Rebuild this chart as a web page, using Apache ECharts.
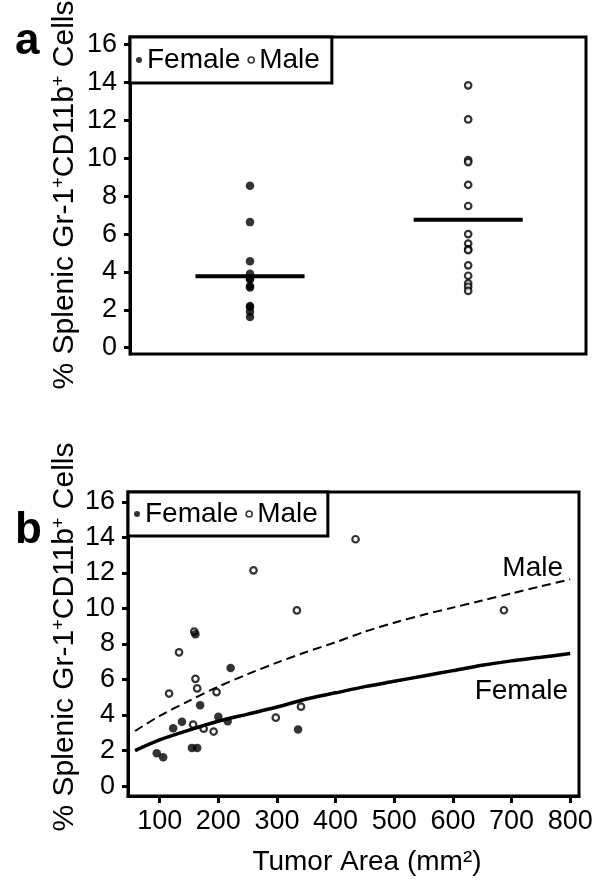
<!DOCTYPE html>
<html>
<head>
<meta charset="utf-8">
<script src="https://cdn.jsdelivr.net/npm/echarts@6/dist/echarts.min.js"></script>
<style>
html,body{margin:0;padding:0;background:#fff;}
#c{width:602px;height:884px;}
</style>
</head>
<body>
<div id="c"></div>
<script>
// ---------- data ----------
const groups = ['Female', 'Male'];
const femaleA = [8.55, 6.63, 4.57, 3.9, 3.65, 3.6, 3.25, 3.18, 2.2, 2.15, 1.9, 1.62];
const maleA = [13.85, 12.05, 9.9, 9.8, 8.6, 7.48, 6.0, 5.5, 5.2, 5.15, 4.35, 3.8, 3.4, 3.22, 3.0];
const mediansA = [3.77, 6.75];
const yTicks = [0, 2, 4, 6, 8, 10, 12, 14, 16];
const xTicksB = [100, 200, 300, 400, 500, 600, 700, 800];
const femaleB = [[95,1.85],[106,1.62],[123,3.25],[138,3.62],[155,2.15],[164,2.15],[161,8.55],[169,4.55],[200,3.9],[216,3.65],[221,6.65],[336,3.18]];
const maleB = [[116,5.21],[133,7.53],[157,3.46],[159,8.7],[161,6.04],[164,5.5],[175,3.23],[192,3.07],[197,5.29],[260,12.15],[298,3.85],[334,9.89],[341,4.47],[434,13.9],[687,9.9]];
const femaleFit = [[58,2.0],[100,2.6],[150,3.15],[200,3.65],[250,4.05],[300,4.45],[350,4.9],[400,5.25],[450,5.6],[500,5.9],[550,6.2],[600,6.5],[650,6.8],[700,7.05],[750,7.25],[800,7.47]];
const maleFit = [[58,3.1],[100,3.95],[150,4.8],[200,5.6],[250,6.3],[300,6.95],[350,7.55],[400,8.1],[450,8.7],[500,9.2],[550,9.65],[600,10.05],[650,10.45],[700,10.85],[750,11.25],[800,11.64]];

// ---------- chart ----------
const FONT = '"Liberation Sans", Arial, sans-serif';
const chart = echarts.init(document.getElementById('c'), null, {renderer: 'canvas'});
const halfW = 0.25;

function yAxisCfg(gi, min, max) {
  return {
    type: 'value', gridIndex: gi, min: min, max: max,
    axisLine: {show: true, onZero: false, lineStyle: {color: '#000', width: 3}},
    axisTick: {show: true, inside: false, length: 6, lineStyle: {color: '#000', width: 3}, customValues: yTicks},
    axisLabel: {show: true, customValues: yTicks, fontSize: 27, color: '#000', margin: 13, fontFamily: FONT},
    splitLine: {show: false}
  };
}
function legendCfg(left, top, pad) {
  return {
    left: left, top: top, orient: 'horizontal',
    selectedMode: false,
    itemWidth: 6, itemHeight: 6, itemGap: 7,
    padding: pad,
    backgroundColor: '#fff', borderColor: '#000', borderWidth: 3,
    textStyle: {fontSize: 28, color: '#000', fontFamily: FONT},
    data: [
      {name: 'Female', icon: 'circle', itemStyle: {color: '#000', borderWidth: 0}},
      {name: 'Male', icon: 'circle', itemStyle: {color: '#fff', borderColor: '#000', borderWidth: 1.6}}
    ]
  };
}
const femaleSym = {symbol: 'circle', symbolSize: 8.5, itemStyle: {color: '#000'}};
const maleSym = {symbol: 'circle', symbolSize: 6.5, itemStyle: {color: '#fff', borderColor: '#000', borderWidth: 2.2}};
const supRich = {s: {fontSize: 18, lineHeight: 10, verticalAlign: 'top', fontFamily: FONT, fill: '#000'}};
const yTitle = '% Splenic Gr-1{s|+}CD11b{s|+} Cells';

const option = {
  animation: false,
  backgroundColor: '#fff',
  textStyle: {fontFamily: FONT, color: '#000'},
  grid: [
    {left: 130, top: 37, width: 456, height: 317, show: true, borderColor: '#000', borderWidth: 3, backgroundColor: 'transparent'},
    {left: 128, top: 492, width: 451, height: 304, show: true, borderColor: '#000', borderWidth: 3, backgroundColor: 'transparent'}
  ],
  xAxis: [
    {type: 'value', gridIndex: 0, min: 0.45, max: 2.54,
     axisLine: {show: false}, axisTick: {show: false}, axisLabel: {show: false}, splitLine: {show: false}},
    {type: 'value', gridIndex: 1, min: 46, max: 815,
     axisLine: {show: true, onZero: false, lineStyle: {color: '#000', width: 3}},
     axisTick: {show: true, inside: false, length: 7, lineStyle: {color: '#000', width: 3}, customValues: xTicksB},
     axisLabel: {show: true, customValues: xTicksB, fontSize: 27, color: '#000', margin: 12, fontFamily: FONT},
     splitLine: {show: false}}
  ],
  yAxis: [yAxisCfg(0, -0.33, 16.4), yAxisCfg(1, -0.56, 16.56)],
  legend: [legendCfg(130, 37, [9, 12, 9, 6]), legendCfg(128, 492, [8, 10, 8, 6])],
  series: [
    Object.assign({type: 'scatter', name: 'Male', xAxisIndex: 0, yAxisIndex: 0,
      data: maleA.map(v => [2, v])}, maleSym),
    Object.assign({type: 'scatter', name: 'Female', xAxisIndex: 0, yAxisIndex: 0,
      data: femaleA.map(v => [1, v])}, femaleSym),
    {type: 'line', name: 'medF', xAxisIndex: 0, yAxisIndex: 0, symbol: 'none',
      data: [[1 - halfW, mediansA[0]], [1 + halfW, mediansA[0]]], lineStyle: {color: '#000', width: 4}},
    {type: 'line', name: 'medM', xAxisIndex: 0, yAxisIndex: 0, symbol: 'none',
      data: [[2 - halfW, mediansA[1]], [2 + halfW, mediansA[1]]], lineStyle: {color: '#000', width: 4}},
    {type: 'line', name: 'fitM', xAxisIndex: 1, yAxisIndex: 1, symbol: 'none', smooth: 0.3,
      data: maleFit, lineStyle: {color: '#000', width: 2, type: [9, 5]}},
    {type: 'line', name: 'fitF', xAxisIndex: 1, yAxisIndex: 1, symbol: 'none', smooth: 0.3,
      data: femaleFit, lineStyle: {color: '#000', width: 3.5}},
    Object.assign({type: 'scatter', name: 'Male', xAxisIndex: 1, yAxisIndex: 1, data: maleB}, maleSym),
    Object.assign({type: 'scatter', name: 'Female', xAxisIndex: 1, yAxisIndex: 1, data: femaleB}, femaleSym)
  ],
  graphic: [
    {type: 'text', x: 15, y: 42, style: {text: 'a', font: 'bold 44px ' + FONT, fill: '#000', verticalAlign: 'middle'}},
    {type: 'text', x: 15, y: 531, style: {text: 'b', font: 'bold 44px ' + FONT, fill: '#000', verticalAlign: 'middle'}},
    {type: 'text', x: 65, y: 195, rotation: Math.PI / 2,
      style: {text: yTitle, font: '30px ' + FONT, fill: '#000', align: 'center', verticalAlign: 'middle', rich: supRich}},
    {type: 'text', x: 65, y: 637, rotation: Math.PI / 2,
      style: {text: yTitle, font: '30px ' + FONT, fill: '#000', align: 'center', verticalAlign: 'middle', rich: supRich}},
    {type: 'text', x: 367, y: 862,
      style: {text: 'Tumor Area (mm²)', font: '28px ' + FONT, fill: '#000', align: 'center', verticalAlign: 'middle'}},
    {type: 'text', x: 563, y: 568,
      style: {text: 'Male', font: '28px ' + FONT, fill: '#000', align: 'right', verticalAlign: 'middle'}},
    {type: 'text', x: 568, y: 691,
      style: {text: 'Female', font: '28px ' + FONT, fill: '#000', align: 'right', verticalAlign: 'middle'}}
  ]
};
chart.setOption(option);
</script>
</body>
</html>
